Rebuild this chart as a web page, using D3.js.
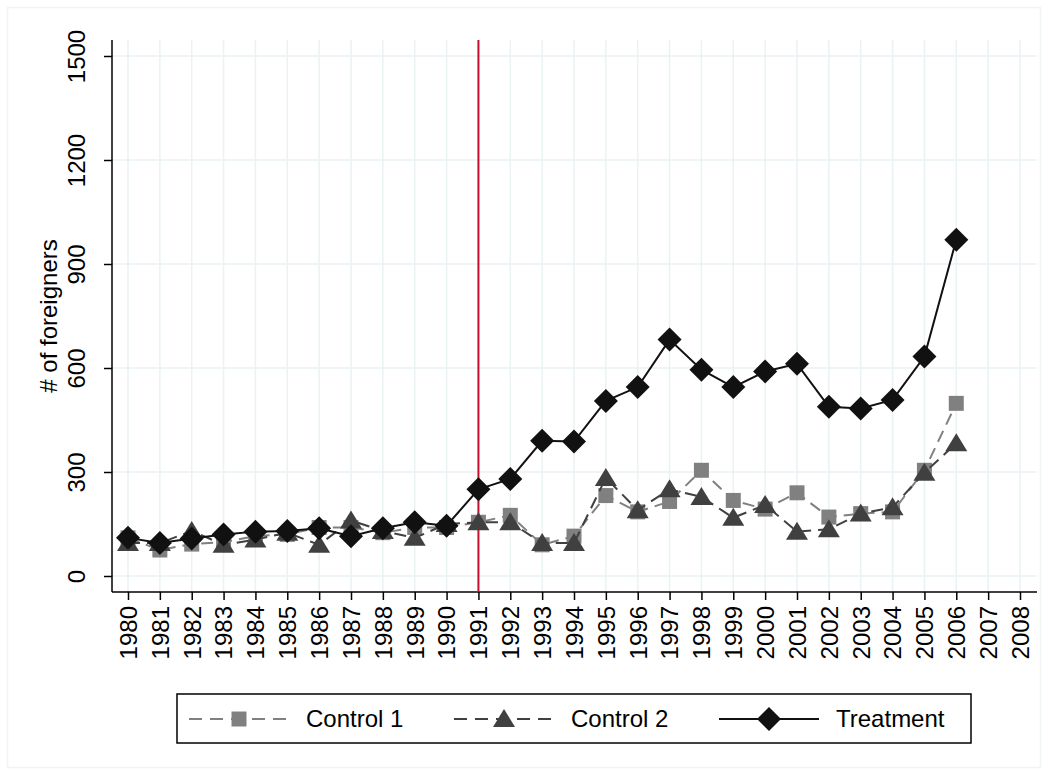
<!DOCTYPE html>
<html><head><meta charset="utf-8">
<script src="https://cdn.jsdelivr.net/npm/d3@7"></script>
<style>body{margin:0;background:#fff}text{font-family:"Liberation Sans",Arial,sans-serif}</style>
</head><body><svg id="c" width="1048" height="775"></svg>
<script>
var years = d3.range(1980, 2009);
var dataYears = d3.range(1980, 2007);
var treatment = [110,95,108,120,128,130,138,115,138,155,145,250,280,390,388,505,545,682,595,545,590,612,488,483,508,633,970];
var control1 = [110,75,92,98,115,120,140,140,125,140,140,155,175,90,115,232,185,215,305,218,193,240,170,180,185,305,498];
var control2 = [95,95,130,90,105,125,90,160,130,110,150,155,155,95,95,283,190,250,228,168,205,128,135,180,198,298,383];
var yTicks = [0,300,600,900,1200,1500];

var svg = d3.select("#c");
svg.append("rect").attr("x",7.5).attr("y",7.5).attr("width",1033).attr("height",760)
  .attr("fill","#fff").attr("stroke","#eef3f4").attr("stroke-width",1.5);

var x = d3.scaleLinear().domain([1980,2008]).range([128,1020]);
var y = d3.scaleLinear().domain([0,1500]).range([576,56]);
var left = 112, bottom = 592, right = 1037;

var g = svg.append("g");
g.selectAll(".gx").data(years).enter().append("line")
  .attr("x1",d=>x(d)).attr("x2",d=>x(d)).attr("y1",40).attr("y2",bottom)
  .attr("stroke","#eaf2f3").attr("stroke-width",1.5);
g.selectAll(".gy").data(yTicks).enter().append("line")
  .attr("x1",left).attr("x2",right).attr("y1",d=>y(d)).attr("y2",d=>y(d))
  .attr("stroke","#eaf2f3").attr("stroke-width",1.5);

// axes
var ya = svg.append("g").attr("transform","translate("+left+",0)")
  .call(d3.axisLeft(y).tickValues(yTicks).tickFormat(d3.format("d")).tickSize(8));
ya.select(".domain").attr("d","M0,40V"+bottom).attr("stroke","#000").attr("stroke-width",1.5);
ya.selectAll(".tick line").attr("stroke","#000").attr("stroke-width",1.5);
ya.selectAll(".tick text").style("font-size","24px").attr("fill","#000")
  .attr("x",0).attr("y",0).attr("dy",0).attr("text-anchor","middle")
  .attr("transform","translate(-27,0) rotate(-90)");

var xa = svg.append("g").attr("transform","translate(0,"+bottom+")")
  .call(d3.axisBottom(x).tickValues(years).tickFormat(d3.format("d")).tickSize(8));
xa.select(".domain").attr("d","M"+left+",0H"+right).attr("stroke","#000").attr("stroke-width",1.5);
xa.selectAll(".tick line").attr("stroke","#000").attr("stroke-width",1.5);
xa.selectAll(".tick text").style("font-size","24px").attr("fill","#000")
  .attr("transform","rotate(-90)").attr("text-anchor","end")
  .attr("x",-14).attr("y",0).attr("dy","0.35em");

svg.append("text").attr("transform","translate(57,"+y(750)+") rotate(-90)")
  .attr("text-anchor","middle").style("font-size","24px").text("# of foreigners");

// treatment start
svg.append("line").attr("x1",x(1991)).attr("x2",x(1991)).attr("y1",40).attr("y2",bottom)
  .attr("stroke","#c8102e").attr("stroke-width",2);

function diamond(r){ return "M0,"+(-r)+"L"+r+",0L0,"+r+"L"+(-r)+",0Z"; }
function square(r){ return "M"+(-r)+","+(-r)+"H"+r+"V"+r+"H"+(-r)+"Z"; }
function triangle(r){ return "M0,"+(-r)+"L"+(r*1.1)+","+(r*0.8)+"H"+(-r*1.1)+"Z"; }

var series = [
  {vals:control1, color:"#808080", dash:"12,7", sym:square(7.5)},
  {vals:control2, color:"#404040", dash:"12,7", sym:triangle(10)},
  {vals:treatment, color:"#111", dash:null, sym:diamond(12)}
];
var line = d3.line().x((d,i)=>x(dataYears[i])).y(d=>y(d));
series.forEach(function(s){
  svg.append("path").attr("d",line(s.vals)).attr("fill","none")
    .attr("stroke",s.color).attr("stroke-width",2).attr("stroke-dasharray",s.dash);
  svg.selectAll(null).data(s.vals).enter().append("path")
    .attr("d",s.sym)
    .attr("transform",(d,i)=>"translate("+x(dataYears[i])+","+y(d)+")")
    .attr("fill",s.color);
});

// legend
var lg = svg.append("g");
lg.append("rect").attr("x",177).attr("y",694).attr("width",794).attr("height",49)
  .attr("fill","#fff").attr("stroke","#000").attr("stroke-width",1.5);
var labels = ["Control 1","Control 2","Treatment"];
var lx = [189, 454, 719];
series.forEach(function(s,i){
  var ly = 719;
  lg.append("line").attr("x1",lx[i]).attr("x2",lx[i]+100).attr("y1",ly).attr("y2",ly)
    .attr("stroke",s.color).attr("stroke-width",2).attr("stroke-dasharray",s.dash?"13,8":null);
  lg.append("path").attr("d",s.sym)
    .attr("transform","translate("+(lx[i]+50)+","+ly+")")
    .attr("fill",s.color);
  lg.append("text").attr("x",lx[i]+117).attr("y",ly+8).style("font-size","24px").text(labels[i]);
});
</script></body></html>
